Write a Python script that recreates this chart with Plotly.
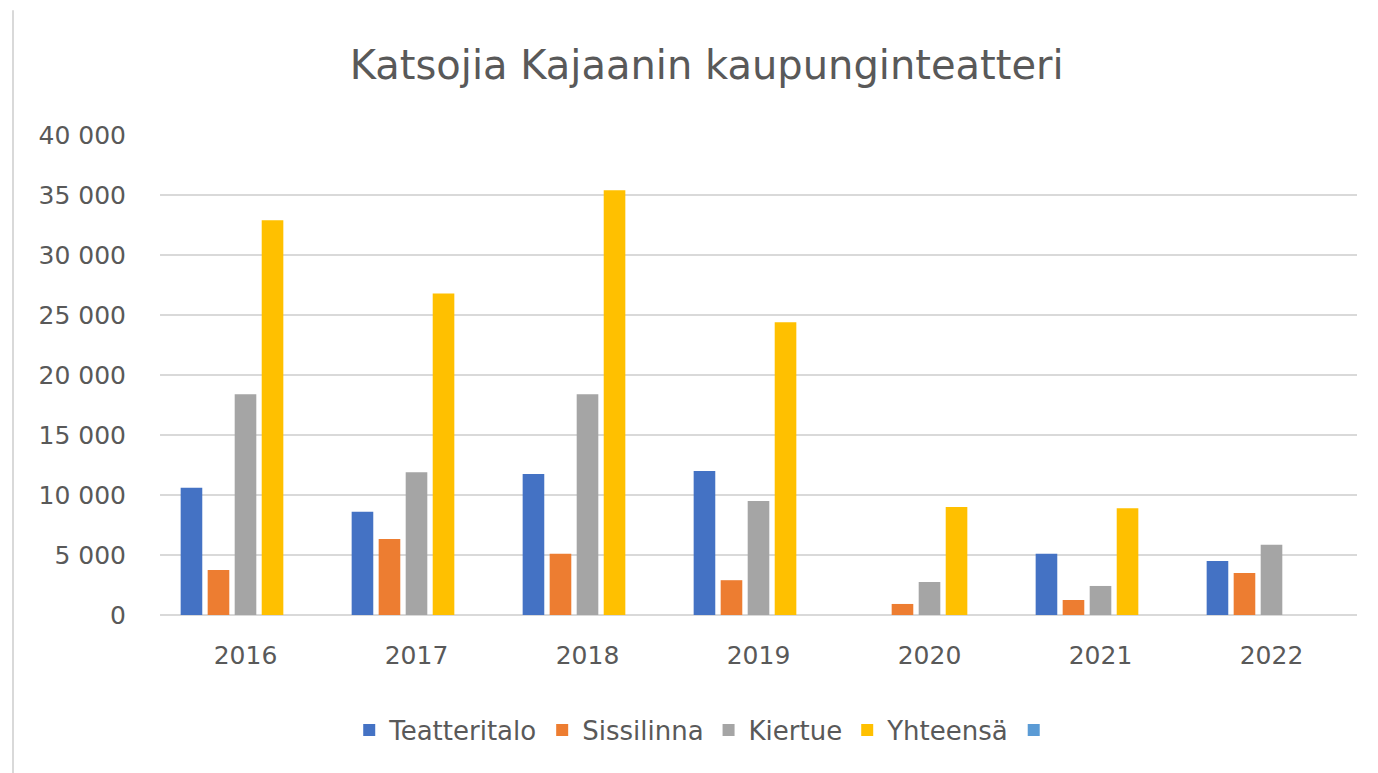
import plotly.graph_objects as go

years = ["2016", "2017", "2018", "2019", "2020", "2021", "2022"]
teatteritalo = [10600, 8600, 11750, 12000, None, 5100, 4500]
sissilinna = [3750, 6330, 5100, 2900, 920, 1250, 3500]
kiertue = [18400, 11900, 18400, 9500, 2750, 2420, 5850]
yhteensa = [32900, 26800, 35400, 24400, 9000, 8900, None]
tyhja = [0, 0, 0, 0, 0, 0, 0]

series = [
    ("Teatteritalo", teatteritalo, "#4472C4"),
    ("Sissilinna", sissilinna, "#ED7D31"),
    ("Kiertue", kiertue, "#A5A5A5"),
    ("Yhteensä", yhteensa, "#FFC000"),
    (" ", tyhja, "#5B9BD5"),
]

fig = go.Figure()
for name, vals, col in series:
    fig.add_trace(go.Bar(x=years, y=vals, name=name, marker_color=col,
                         marker_line_width=0))

fig.update_layout(
    width=1370, height=765,
    paper_bgcolor="white", plot_bgcolor="white",
    separators=", ",
    barmode="group", bargap=0.21, bargroupgap=0.2,
    margin=dict(l=152, r=21, t=127, b=158),
    title=dict(text="Katsojia Kajaanin kaupunginteatteri",
               xref="container", x=0.51, xanchor="center",
               yref="container", y=0.9255, yanchor="middle",
               font=dict(family="DejaVu Sans", size=40, color="#595959")),
    font=dict(family="DejaVu Sans", color="#595959"),
    legend=dict(orientation="h", x=0.458, xanchor="center", y=-0.24, yanchor="middle",
                font=dict(family="DejaVu Sans", size=26, color="#595959"),
                itemwidth=30, traceorder="normal"),
    xaxis=dict(showgrid=False, showline=False, ticks="",
               tickfont=dict(size=25, color="#595959"), ticklabelstandoff=23),
    yaxis=dict(range=[0, 40000], dtick=5000, tickformat=",d",
               gridcolor="#D9D9D9", gridwidth=2, zeroline=True,
               zerolinecolor="#D9D9D9", zerolinewidth=2,
               showline=False, ticks="",
               tickfont=dict(size=25, color="#595959"), ticklabelstandoff=33),
)

# decorative left border of the screenshot
fig.add_shape(type="line", xref="paper", yref="paper",
              x0=-0.1228, x1=-0.1228, y0=-0.35, y1=1.26,
              line=dict(color="#D9D9D9", width=2))

fig.write_html("out.html")
